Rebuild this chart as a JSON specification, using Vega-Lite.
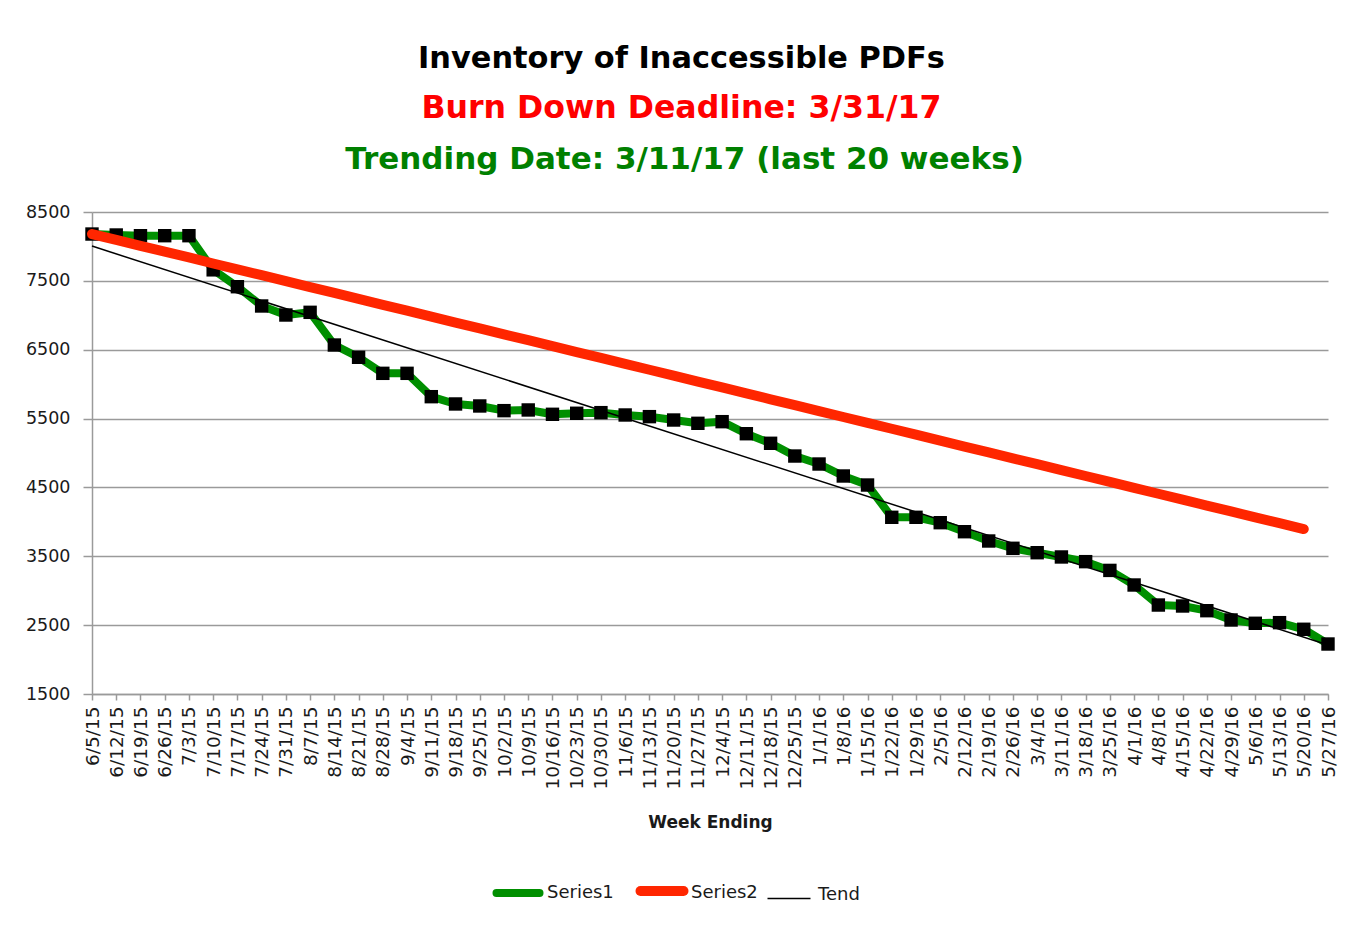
{
  "$schema": "https://vega.github.io/schema/vega-lite/v6.json",
  "width": 1236,
  "height": 482,
  "autosize": {"type": "none"},
  "padding": {"left": 92, "top": 212, "right": 25, "bottom": 239},
  "background": "white",
  "config": {"view": {"stroke": null}},
  "title": {
    "text": "Inventory of Inaccessible PDFs",
    "subtitle": "Burn Down Deadline: 3/31/17",
    "anchor": "middle",
    "frame": "bounds",
    "font": "DejaVu Sans",
    "fontSize": 30.4,
    "fontWeight": "bold",
    "color": "#000000",
    "subtitleFont": "DejaVu Sans",
    "subtitleFontSize": 31.6,
    "subtitleFontWeight": "bold",
    "subtitleColor": "#FF0000",
    "subtitlePadding": 19,
    "offset": 18
  },
  "data": {
    "values": [
      {"week": "6/5/15", "series": "Series1", "value": 8180},
      {"week": "6/12/15", "series": "Series1", "value": 8166},
      {"week": "6/19/15", "series": "Series1", "value": 8156},
      {"week": "6/26/15", "series": "Series1", "value": 8156},
      {"week": "7/3/15", "series": "Series1", "value": 8156},
      {"week": "7/10/15", "series": "Series1", "value": 7660},
      {"week": "7/17/15", "series": "Series1", "value": 7415},
      {"week": "7/24/15", "series": "Series1", "value": 7135},
      {"week": "7/31/15", "series": "Series1", "value": 7004},
      {"week": "8/7/15", "series": "Series1", "value": 7043},
      {"week": "8/14/15", "series": "Series1", "value": 6568},
      {"week": "8/21/15", "series": "Series1", "value": 6390},
      {"week": "8/28/15", "series": "Series1", "value": 6157},
      {"week": "9/4/15", "series": "Series1", "value": 6157},
      {"week": "9/11/15", "series": "Series1", "value": 5818},
      {"week": "9/18/15", "series": "Series1", "value": 5712},
      {"week": "9/25/15", "series": "Series1", "value": 5683},
      {"week": "10/2/15", "series": "Series1", "value": 5615},
      {"week": "10/9/15", "series": "Series1", "value": 5625},
      {"week": "10/16/15", "series": "Series1", "value": 5562},
      {"week": "10/23/15", "series": "Series1", "value": 5577},
      {"week": "10/30/15", "series": "Series1", "value": 5586},
      {"week": "11/6/15", "series": "Series1", "value": 5552},
      {"week": "11/13/15", "series": "Series1", "value": 5528},
      {"week": "11/20/15", "series": "Series1", "value": 5479},
      {"week": "11/27/15", "series": "Series1", "value": 5431},
      {"week": "12/4/15", "series": "Series1", "value": 5455},
      {"week": "12/11/15", "series": "Series1", "value": 5280},
      {"week": "12/18/15", "series": "Series1", "value": 5141},
      {"week": "12/25/15", "series": "Series1", "value": 4956},
      {"week": "1/1/16", "series": "Series1", "value": 4840},
      {"week": "1/8/16", "series": "Series1", "value": 4666},
      {"week": "1/15/16", "series": "Series1", "value": 4535},
      {"week": "1/22/16", "series": "Series1", "value": 4066},
      {"week": "1/29/16", "series": "Series1", "value": 4066},
      {"week": "2/5/16", "series": "Series1", "value": 3988},
      {"week": "2/12/16", "series": "Series1", "value": 3857},
      {"week": "2/19/16", "series": "Series1", "value": 3722},
      {"week": "2/26/16", "series": "Series1", "value": 3616},
      {"week": "3/4/16", "series": "Series1", "value": 3552},
      {"week": "3/11/16", "series": "Series1", "value": 3490},
      {"week": "3/18/16", "series": "Series1", "value": 3422},
      {"week": "3/25/16", "series": "Series1", "value": 3295},
      {"week": "4/1/16", "series": "Series1", "value": 3083},
      {"week": "4/8/16", "series": "Series1", "value": 2792},
      {"week": "4/15/16", "series": "Series1", "value": 2778},
      {"week": "4/22/16", "series": "Series1", "value": 2710},
      {"week": "4/29/16", "series": "Series1", "value": 2575},
      {"week": "5/6/16", "series": "Series1", "value": 2527},
      {"week": "5/13/16", "series": "Series1", "value": 2536},
      {"week": "5/20/16", "series": "Series1", "value": 2440},
      {"week": "5/27/16", "series": "Series1", "value": 2226},
      {"week": "6/5/15", "series": "Series2", "value": 8180},
      {"week": "6/12/15", "series": "Series2", "value": 8095},
      {"week": "6/19/15", "series": "Series2", "value": 8008},
      {"week": "6/26/15", "series": "Series2", "value": 7925},
      {"week": "7/3/15", "series": "Series2", "value": 7840},
      {"week": "7/10/15", "series": "Series2", "value": 7752},
      {"week": "7/17/15", "series": "Series2", "value": 7668},
      {"week": "7/24/15", "series": "Series2", "value": 7582},
      {"week": "7/31/15", "series": "Series2", "value": 7495},
      {"week": "8/7/15", "series": "Series2", "value": 7410},
      {"week": "8/14/15", "series": "Series2", "value": 7325},
      {"week": "8/21/15", "series": "Series2", "value": 7238},
      {"week": "8/28/15", "series": "Series2", "value": 7152},
      {"week": "9/4/15", "series": "Series2", "value": 7067},
      {"week": "9/11/15", "series": "Series2", "value": 6980},
      {"week": "9/18/15", "series": "Series2", "value": 6895},
      {"week": "9/25/15", "series": "Series2", "value": 6810},
      {"week": "10/2/15", "series": "Series2", "value": 6723},
      {"week": "10/9/15", "series": "Series2", "value": 6638},
      {"week": "10/16/15", "series": "Series2", "value": 6552},
      {"week": "10/23/15", "series": "Series2", "value": 6466},
      {"week": "10/30/15", "series": "Series2", "value": 6381},
      {"week": "11/6/15", "series": "Series2", "value": 6295},
      {"week": "11/13/15", "series": "Series2", "value": 6209},
      {"week": "11/20/15", "series": "Series2", "value": 6123},
      {"week": "11/27/15", "series": "Series2", "value": 6038},
      {"week": "12/4/15", "series": "Series2", "value": 5952},
      {"week": "12/11/15", "series": "Series2", "value": 5866},
      {"week": "12/18/15", "series": "Series2", "value": 5780},
      {"week": "12/25/15", "series": "Series2", "value": 5695},
      {"week": "1/1/16", "series": "Series2", "value": 5609},
      {"week": "1/8/16", "series": "Series2", "value": 5523},
      {"week": "1/15/16", "series": "Series2", "value": 5437},
      {"week": "1/22/16", "series": "Series2", "value": 5352},
      {"week": "1/29/16", "series": "Series2", "value": 5266},
      {"week": "2/5/16", "series": "Series2", "value": 5180},
      {"week": "2/12/16", "series": "Series2", "value": 5094},
      {"week": "2/19/16", "series": "Series2", "value": 5009},
      {"week": "2/26/16", "series": "Series2", "value": 4923},
      {"week": "3/4/16", "series": "Series2", "value": 4837},
      {"week": "3/11/16", "series": "Series2", "value": 4751},
      {"week": "3/18/16", "series": "Series2", "value": 4666},
      {"week": "3/25/16", "series": "Series2", "value": 4580},
      {"week": "4/1/16", "series": "Series2", "value": 4494},
      {"week": "4/8/16", "series": "Series2", "value": 4408},
      {"week": "4/15/16", "series": "Series2", "value": 4323},
      {"week": "4/22/16", "series": "Series2", "value": 4237},
      {"week": "4/29/16", "series": "Series2", "value": 4151},
      {"week": "5/6/16", "series": "Series2", "value": 4065},
      {"week": "5/13/16", "series": "Series2", "value": 3980},
      {"week": "5/20/16", "series": "Series2", "value": 3895},
      {"week": "6/5/15", "series": "Tend", "value": 8005},
      {"week": "5/27/16", "series": "Tend", "value": 2212}
    ]
  },
  "encoding": {
    "y": {
      "field": "value",
      "type": "quantitative",
      "scale": {"domain": [1500, 8500], "nice": false, "zero": false},
      "axis": {
        "title": null,
        "values": [1500, 2500, 3500, 4500, 5500, 6500, 7500, 8500],
        "format": "d",
        "grid": true,
        "gridColor": "#9a9a9a",
        "gridWidth": 1.5,
        "domain": true,
        "domainColor": "#9a9a9a",
        "domainWidth": 1.5,
        "ticks": true,
        "tickSize": 9,
        "tickColor": "#9a9a9a",
        "tickWidth": 1.5,
        "labelPadding": 13,
        "labelFont": "DejaVu Sans",
        "labelFontSize": 17.5,
        "labelColor": "#1a1a1a"
      }
    },
    "color": {
      "field": "series",
      "type": "nominal",
      "scale": {"domain": ["Series1", "Series2", "Tend"], "range": ["#008F00", "#FF2600", "#000000"]},
      "legend": {
        "title": null,
        "orient": "none",
        "legendX": 417,
        "legendY": 670,
        "direction": "horizontal",
        "symbolType": "stroke",
        "symbolSize": 1849,
        "labelFont": "DejaVu Sans",
        "labelFontSize": 18,
        "labelColor": "#1a1a1a",
        "labelOffset": 20,
        "columnPadding": 6,
        "labelExpr": "datum.label === 'Series2' ? 'Series2\u00a0\u00a0' : datum.label",
        "encode": {
          "symbols": {
            "update": {
              "strokeWidth": {"signal": "datum.value === 'Tend' ? 1.5 : (datum.value === 'Series2' ? 10 : 8)"},
              "strokeCap": {"signal": "datum.value === 'Tend' ? 'butt' : 'round'"}
            }
          },
          "labels": {
            "update": {
              "dy": {"signal": "datum.value === 'Tend' ? -4 : (datum.value === 'Series2' ? 2 : 0)"}
            }
          }
        }
      }
    }
  },
  "layer": [
    {
      "encoding": {
        "x": {
          "field": "week",
          "type": "ordinal",
          "scale": {"type": "point", "padding": 0, "domain": ["6/5/15","6/12/15","6/19/15","6/26/15","7/3/15","7/10/15","7/17/15","7/24/15","7/31/15","8/7/15","8/14/15","8/21/15","8/28/15","9/4/15","9/11/15","9/18/15","9/25/15","10/2/15","10/9/15","10/16/15","10/23/15","10/30/15","11/6/15","11/13/15","11/20/15","11/27/15","12/4/15","12/11/15","12/18/15","12/25/15","1/1/16","1/8/16","1/15/16","1/22/16","1/29/16","2/5/16","2/12/16","2/19/16","2/26/16","3/4/16","3/11/16","3/18/16","3/25/16","4/1/16","4/8/16","4/15/16","4/22/16","4/29/16","5/6/16","5/13/16","5/20/16","5/27/16"]},
          "axis": {
            "orient": "bottom",
            "title": "Week Ending",
            "titleFont": "DejaVu Sans",
            "titleFontSize": 17,
            "titleFontWeight": "bold",
            "titleColor": "#1a1a1a",
            "titlePadding": 25,
            "labelAngle": -90,
            "labelAlign": "right",
            "labelBaseline": "middle",
            "labelFont": "DejaVu Sans",
            "labelFontSize": 18.5,
            "labelColor": "#1a1a1a",
            "labelPadding": 6,
            "labelOverlap": false,
            "labelBound": false,
            "grid": false,
            "domain": true,
            "domainColor": "#9a9a9a",
            "domainWidth": 1.5,
            "ticks": true,
            "tickSize": 6,
            "tickColor": "#9a9a9a",
            "tickWidth": 1.5
          }
        }
      },
      "layer": [
        {
          "transform": [{"filter": "datum.series === 'Series1'"}],
          "mark": {"type": "line", "strokeWidth": 8, "strokeJoin": "round", "strokeCap": "round"}
        },
        {
          "transform": [{"filter": "datum.series === 'Series1'"}],
          "mark": {"type": "point", "shape": "square", "filled": true, "color": "#000000", "opacity": 1, "size": 180},
          "encoding": {"color": {"value": "#000000"}}
        },
        {
          "transform": [{"filter": "datum.series === 'Series2'"}],
          "mark": {"type": "line", "strokeWidth": 10, "strokeJoin": "round", "strokeCap": "round"}
        }
      ]
    },
    {
      "transform": [{"filter": "datum.series === 'Tend'"}],
      "mark": {"type": "line", "strokeWidth": 1.5},
      "encoding": {
        "x": {
          "field": "week",
          "type": "ordinal",
          "scale": {"type": "point", "padding": 0, "domain": ["6/5/15","6/12/15","6/19/15","6/26/15","7/3/15","7/10/15","7/17/15","7/24/15","7/31/15","8/7/15","8/14/15","8/21/15","8/28/15","9/4/15","9/11/15","9/18/15","9/25/15","10/2/15","10/9/15","10/16/15","10/23/15","10/30/15","11/6/15","11/13/15","11/20/15","11/27/15","12/4/15","12/11/15","12/18/15","12/25/15","1/1/16","1/8/16","1/15/16","1/22/16","1/29/16","2/5/16","2/12/16","2/19/16","2/26/16","3/4/16","3/11/16","3/18/16","3/25/16","4/1/16","4/8/16","4/15/16","4/22/16","4/29/16","5/6/16","5/13/16","5/20/16","5/27/16"]},
          "axis": {
            "orient": "top",
            "title": "Trending Date: 3/11/17 (last 20 weeks)",
            "titleFont": "DejaVu Sans",
            "titleFontSize": 31,
            "titleFontWeight": "bold",
            "titleColor": "#008000",
            "titleBaseline": "alphabetic",
            "titleAnchor": "middle",
            "titleX": 592,
            "titleY": -44,
            "labels": false,
            "ticks": false,
            "domain": false,
            "grid": false
          }
        }
      }
    }
  ],
  "resolve": {"axis": {"x": "independent"}}
}
